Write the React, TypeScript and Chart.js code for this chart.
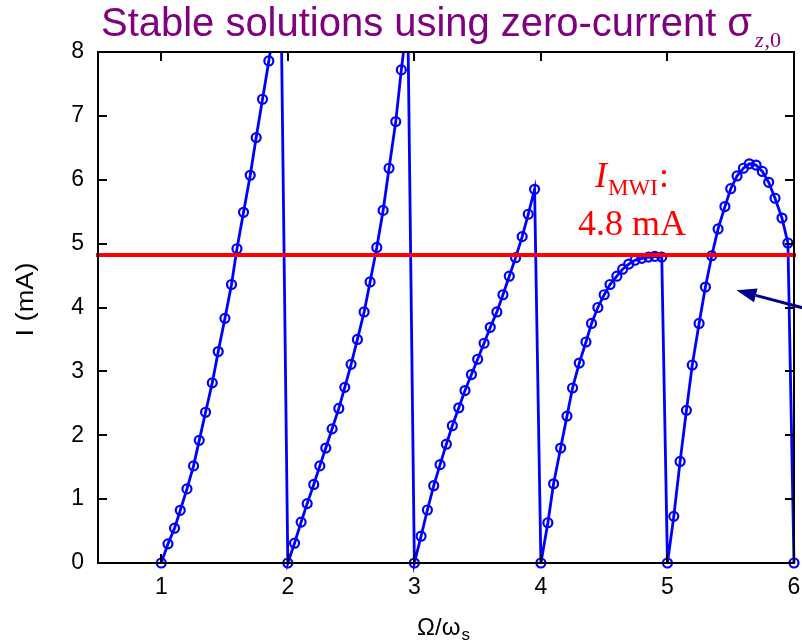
import { useEffect, useRef } from "react";
import { Chart, registerables } from "chart.js";

Chart.register(...registerables);

// ---------- data ----------
const X_MIN = 0.5;
const X_MAX = 6;
const Y_MIN = 0;
const Y_MAX = 8;
const X_TICKS = [1, 2, 3, 4, 5, 6];
const Y_TICKS = [0, 1, 2, 3, 4, 5, 6, 7, 8];

const OMEGA = [
  1.0, 1.053, 1.105, 1.15, 1.203, 1.255, 1.3, 1.35, 1.403, 1.45, 1.503, 1.555, 1.598, 1.65, 1.703, 1.75, 1.8, 1.85, 1.9, 1.945,
  2.0, 2.053, 2.105, 2.153, 2.205, 2.253, 2.3, 2.35, 2.403, 2.45, 2.5, 2.55, 2.603, 2.65, 2.703, 2.753, 2.8, 2.853, 2.897, 2.948,
  3.0, 3.053, 3.103, 3.153, 3.203, 3.253, 3.3, 3.351, 3.4, 3.451, 3.5, 3.551, 3.6, 3.652, 3.7, 3.75, 3.8, 3.852, 3.9, 3.95,
  4.0, 4.055, 4.1, 4.156, 4.206, 4.25, 4.303, 4.356, 4.4, 4.45, 4.5, 4.546, 4.6, 4.646, 4.694, 4.744, 4.797, 4.85, 4.9, 4.955,
  5.0, 5.05, 5.1, 5.15, 5.196, 5.25, 5.3, 5.35, 5.4, 5.454, 5.5, 5.55, 5.6, 5.647, 5.7, 5.75, 5.8, 5.85, 5.905, 5.952, 6.0,
];

const CURRENT = [
  0, 0.3, 0.545, 0.825, 1.16, 1.52, 1.92, 2.36, 2.82, 3.31, 3.83, 4.36, 4.92, 5.49, 6.07, 6.66, 7.26, 7.86, 8.5, 9.0,
  0, 0.31, 0.64, 0.93, 1.23, 1.52, 1.8, 2.1, 2.42, 2.75, 3.11, 3.5, 3.93, 4.4, 4.94, 5.52, 6.18, 6.91, 7.72, 8.55,
  0, 0.42, 0.83, 1.21, 1.54, 1.86, 2.15, 2.43, 2.7, 2.95, 3.19, 3.44, 3.69, 3.93, 4.2, 4.49, 4.78, 5.11, 5.46, 5.85,
  0, 0.63, 1.24, 1.8, 2.3, 2.74, 3.13, 3.46, 3.75, 4.0, 4.2, 4.36, 4.49, 4.6, 4.68, 4.74, 4.77, 4.79, 4.8, 4.79,
  0, 0.73, 1.59, 2.39, 3.1, 3.75, 4.32, 4.81, 5.23, 5.58, 5.86, 6.06, 6.18, 6.25, 6.23, 6.13, 5.96, 5.71, 5.4, 5.01, 0,
];

const I_MWI = 4.82;

// texts
const TITLE_MAIN = "Stable solutions using zero-current σ";
const TITLE_SUB_ITALIC = "z";
const TITLE_SUB_UPRIGHT = ",0";
const Y_LABEL = "I (mA)";
const X_LABEL_MAIN = "Ω/ω";
const X_LABEL_SUB = "s";
const ANNOT_I = "I";
const ANNOT_SUB = "MWI";
const ANNOT_COLON = ":";
const ANNOT_VALUE = "4.8 mA";

// annotation anchors (data coordinates)
const ANNOT_X = 4.72;
const ANNOT_Y1 = 5.88;
const ANNOT_Y2 = 5.13;
const ARROW_FROM = [6.3, 3.874];
const ARROW_TO = [5.545, 4.27];

const decorPlugin = {
  id: "decor",
  afterDatasetsDraw(chart: any) {
    const { ctx, chartArea } = chart;
    const xs = chart.scales.x;
    const ys = chart.scales.y;
    const { left, right, top, bottom } = chartArea;
    ctx.save();
    ctx.strokeStyle = "#000";
    ctx.lineWidth = 2;
    ctx.beginPath();
    const tl = 9;
    X_TICKS.forEach((v) => {
      const px = Math.round(xs.getPixelForValue(v));
      ctx.moveTo(px, bottom);
      ctx.lineTo(px, bottom - tl);
      ctx.moveTo(px, top);
      ctx.lineTo(px, top + tl);
    });
    Y_TICKS.forEach((v) => {
      const py = Math.round(ys.getPixelForValue(v));
      ctx.moveTo(left, py);
      ctx.lineTo(left + tl, py);
      ctx.moveTo(right, py);
      ctx.lineTo(right - tl, py);
    });
    ctx.stroke();
    ctx.strokeRect(left, top, right - left, bottom - top);
    ctx.restore();
  },
  afterDraw(chart: any) {
    const { ctx, chartArea } = chart;
    const xs = chart.scales.x;
    const ys = chart.scales.y;
    ctx.save();

    // Title
    ctx.fillStyle = "#800080";
    ctx.textBaseline = "alphabetic";
    ctx.textAlign = "left";
    ctx.font = '40px "Liberation Sans", Arial, sans-serif';
    const tw = ctx.measureText(TITLE_MAIN).width;
    ctx.save();
    ctx.translate(101, 36);
    ctx.scale(651 / tw, 1);
    ctx.fillText(TITLE_MAIN, 0, 0);
    ctx.restore();
    ctx.font = 'italic 22px "Liberation Serif", serif';
    ctx.fillText(TITLE_SUB_ITALIC, 755, 47);
    const zw = ctx.measureText(TITLE_SUB_ITALIC).width;
    ctx.font = '22px "Liberation Serif", serif';
    ctx.fillText(TITLE_SUB_UPRIGHT, 755 + zw + 1, 47);

    // Y label
    ctx.fillStyle = "#000";
    ctx.font = '23px "Liberation Sans", Arial, sans-serif';
    ctx.save();
    const cy = (chartArea.top + chartArea.bottom) / 2;
    ctx.translate(33, cy - 8);
    ctx.rotate(-Math.PI / 2);
    ctx.textAlign = "center";
    const yw = ctx.measureText(Y_LABEL).width;
    ctx.scale(74 / yw, 1);
    ctx.fillText(Y_LABEL, 0, 0);
    ctx.restore();

    // X label
    ctx.font = '24px "Liberation Sans", Arial, sans-serif';
    const xm = ctx.measureText(X_LABEL_MAIN).width;
    ctx.font = '17px "Liberation Sans", Arial, sans-serif';
    const xsw = ctx.measureText(X_LABEL_SUB).width;
    const cx = (chartArea.left + chartArea.right) / 2;
    const x0 = cx - (xm + xsw) / 2 - 3;
    ctx.font = '24px "Liberation Sans", Arial, sans-serif';
    ctx.fillText(X_LABEL_MAIN, x0, 635);
    ctx.font = '17px "Liberation Sans", Arial, sans-serif';
    ctx.fillText(X_LABEL_SUB, x0 + xm + 1, 640);

    // Annotation
    ctx.fillStyle = "#ff0000";
    const ax = xs.getPixelForValue(ANNOT_X);
    const ay1 = ys.getPixelForValue(ANNOT_Y1);
    const ay2 = ys.getPixelForValue(ANNOT_Y2);
    ctx.font = 'italic 36px "Liberation Serif", serif';
    const iw = ctx.measureText(ANNOT_I).width;
    ctx.font = '23px "Liberation Serif", serif';
    const sw = ctx.measureText(ANNOT_SUB).width;
    ctx.font = '36px "Liberation Serif", serif';
    const cw = ctx.measureText(ANNOT_COLON).width;
    const total = iw + sw + cw + 2;
    let sx = ax - total / 2;
    ctx.font = 'italic 36px "Liberation Serif", serif';
    ctx.fillText(ANNOT_I, sx, ay1);
    sx += iw + 1;
    ctx.font = '23px "Liberation Serif", serif';
    ctx.fillText(ANNOT_SUB, sx, ay1 + 8);
    sx += sw + 1;
    ctx.font = '36px "Liberation Serif", serif';
    ctx.fillText(ANNOT_COLON, sx, ay1);
    ctx.textAlign = "center";
    ctx.font = '36px "Liberation Serif", serif';
    ctx.fillText(ANNOT_VALUE, ax, ay2);

    // Arrow
    const fx = xs.getPixelForValue(ARROW_FROM[0]);
    const fy = ys.getPixelForValue(ARROW_FROM[1]);
    const tx = xs.getPixelForValue(ARROW_TO[0]);
    const ty = ys.getPixelForValue(ARROW_TO[1]);
    const ang = Math.atan2(ty - fy, tx - fx);
    const hl = 20;
    const hw = 7;
    const bx = tx - hl * Math.cos(ang);
    const by = ty - hl * Math.sin(ang);
    ctx.strokeStyle = "#00008b";
    ctx.fillStyle = "#00008b";
    ctx.lineWidth = 3;
    ctx.beginPath();
    ctx.moveTo(fx, fy);
    ctx.lineTo(bx, by);
    ctx.stroke();
    ctx.beginPath();
    ctx.moveTo(tx, ty);
    ctx.lineTo(bx + hw * Math.sin(ang), by - hw * Math.cos(ang));
    ctx.lineTo(bx - hw * Math.sin(ang), by + hw * Math.cos(ang));
    ctx.closePath();
    ctx.fill();

    ctx.restore();
  },
};

export default function App() {
  const ref = useRef<HTMLCanvasElement | null>(null);

  useEffect(() => {
    document.body.style.margin = "0";
    const canvas = ref.current;
    if (!canvas) return;
    const points = OMEGA.map((x, i) => ({ x, y: CURRENT[i] }));
    const redLine = [
      { x: X_MIN, y: I_MWI },
      { x: X_MAX, y: I_MWI },
    ];
    const tickFont = { family: '"Liberation Sans", Arial, sans-serif', size: 23 };
    const chart = new Chart(canvas, {
      type: "line",
      data: {
        datasets: [
          {
            data: redLine,
            borderColor: "#ff0000",
            borderWidth: 4,
            pointRadius: 0,
            borderCapStyle: "square",
            clip: { left: 4, right: 4, top: 4, bottom: 4 },
          } as any,
          {
            data: points,
            borderColor: "#0000ff",
            borderWidth: 2.8,
            pointRadius: 4.5,
            pointBorderWidth: 2.2,
            pointBorderColor: "#0000ff",
            pointBackgroundColor: "rgba(0,0,0,0)",
            tension: 0,
            clip: { left: 12, right: 12, top: 0, bottom: 12 },
          } as any,
        ],
      },
      options: {
        responsive: false,
        animation: false,
        layout: { padding: { top: 52, right: 8, left: 0, bottom: 0 } },
        plugins: {
          legend: { display: false },
          tooltip: { enabled: false },
          title: { display: false },
        },
        scales: {
          x: {
            type: "linear",
            min: X_MIN,
            max: X_MAX,
            afterBuildTicks(s: any) {
              s.ticks = X_TICKS.map((v) => ({ value: v }));
            },
            afterFit(s: any) {
              s.height = 78;
              s.paddingLeft = 0;
              s.paddingRight = 0;
            },
            grid: { display: false, drawTicks: false },
            border: { display: false },
            ticks: {
              font: tickFont,
              color: "#000",
              padding: 11,
              maxRotation: 0,
              autoSkip: false,
            },
          },
          y: {
            type: "linear",
            min: Y_MIN,
            max: Y_MAX,
            afterBuildTicks(s: any) {
              s.ticks = Y_TICKS.map((v) => ({ value: v }));
            },
            afterFit(s: any) {
              s.width = 98;
              s.paddingTop = 0;
              s.paddingBottom = 0;
            },
            grid: { display: false, drawTicks: false },
            border: { display: false },
            ticks: {
              font: tickFont,
              color: "#000",
              padding: 14,
              autoSkip: false,
            },
          },
        },
      } as any,
      plugins: [decorPlugin],
    });
    return () => chart.destroy();
  }, []);

  return (
    <div style={{ width: 802, height: 641 }}>
      <canvas ref={ref} width={802} height={641} style={{ display: "block" }} />
    </div>
  );
}
